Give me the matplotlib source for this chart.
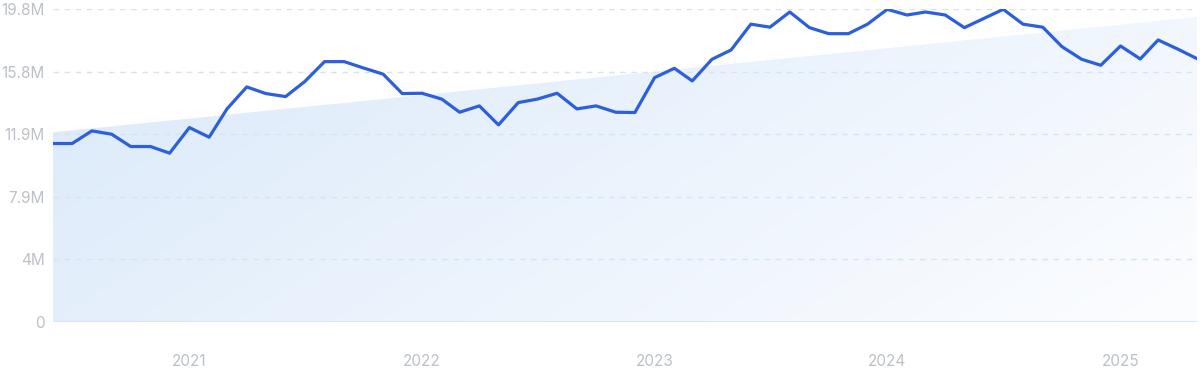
import matplotlib.pyplot as plt
import matplotlib.dates as mdates
import numpy as np
import pandas as pd

plt.rcParams['font.family'] = ['Inter', 'DejaVu Sans']

# Monthly values (millions), June 2020 - May 2025
months = pd.date_range('2020-06-01', periods=60, freq='MS')
values = [11.29, 11.29, 12.09, 11.88, 11.10, 11.10, 10.68, 12.30, 11.69, 13.48,
          14.87, 14.45, 14.26, 15.21, 16.47, 16.47, 16.07, 15.68, 14.45, 14.47,
          14.10, 13.27, 13.67, 12.47, 13.88, 14.10, 14.47, 13.48, 13.67, 13.27,
          13.25, 15.46, 16.05, 15.25, 16.62, 17.21, 18.84, 18.65, 19.61, 18.62,
          18.24, 18.24, 18.84, 19.78, 19.42, 19.61, 19.42, 18.62, 19.21, 19.78,
          18.84, 18.65, 17.42, 16.62, 16.24, 17.46, 16.64, 17.84, 17.26, 16.66]

# Trend line endpoints (millions)
trend_ends = [12.0, 19.3]

y_ticks = [0, 3.96, 7.92, 11.88, 15.84, 19.8]
y_labels = ['0', '4M', '7.9M', '11.9M', '15.8M', '19.8M']
year_ticks = ['2021', '2022', '2023', '2024', '2025']

fig = plt.figure(figsize=(12, 3.71), dpi=100)
ax = fig.add_axes([53 / 1200, 1 - 322 / 371, 1144 / 1200, 313 / 371])

x = mdates.date2num(months)
trend = np.linspace(trend_ends[0], trend_ends[1], len(x))

# Gradient fill under the trend line
poly = ax.fill_between(x, 0, trend, color='none', lw=0)
c1 = np.array([218, 233, 250]) / 255
c2 = np.array([252, 253, 255]) / 255
gx, gy = np.meshgrid(np.linspace(0, 1, 300), np.linspace(1, 0, 100))
t = np.clip(0.7 * gx + 0.3 * (1 - gy), 0, 1)
img = c1[None, None, :] * (1 - t[..., None]) + c2[None, None, :] * t[..., None]
im = ax.imshow(img, extent=[x[0], x[-1], 0, 19.8], aspect='auto', zorder=1,
               interpolation='bilinear')
im.set_clip_path(poly.get_paths()[0], transform=ax.transData)

# Grid lines
for yt in y_ticks[1:]:
    ax.axhline(yt, color='#d6e4f2', lw=1, ls=(0, (4, 4)), zorder=2)
ax.axhline(0, color='#cfe5fa', lw=1.2, zorder=2)

ax.plot(x, values, color='#2c5fdd', lw=2.3, zorder=3)

ax.set_xlim(x[0], x[-1])
ax.set_ylim(0, 19.8)
ax.set_yticks(y_ticks)
ax.set_yticklabels(y_labels)
ax.set_xticks([mdates.date2num(pd.Timestamp(y + '-01-01')) for y in year_ticks])
ax.set_xticklabels(year_ticks)
ax.tick_params(length=0, colors='#bcc0c8', labelsize=11)
ax.tick_params(axis='y', pad=6)
ax.tick_params(axis='x', pad=23)
for s in ax.spines.values():
    s.set_visible(False)

fig.savefig('out.png', dpi=100)
